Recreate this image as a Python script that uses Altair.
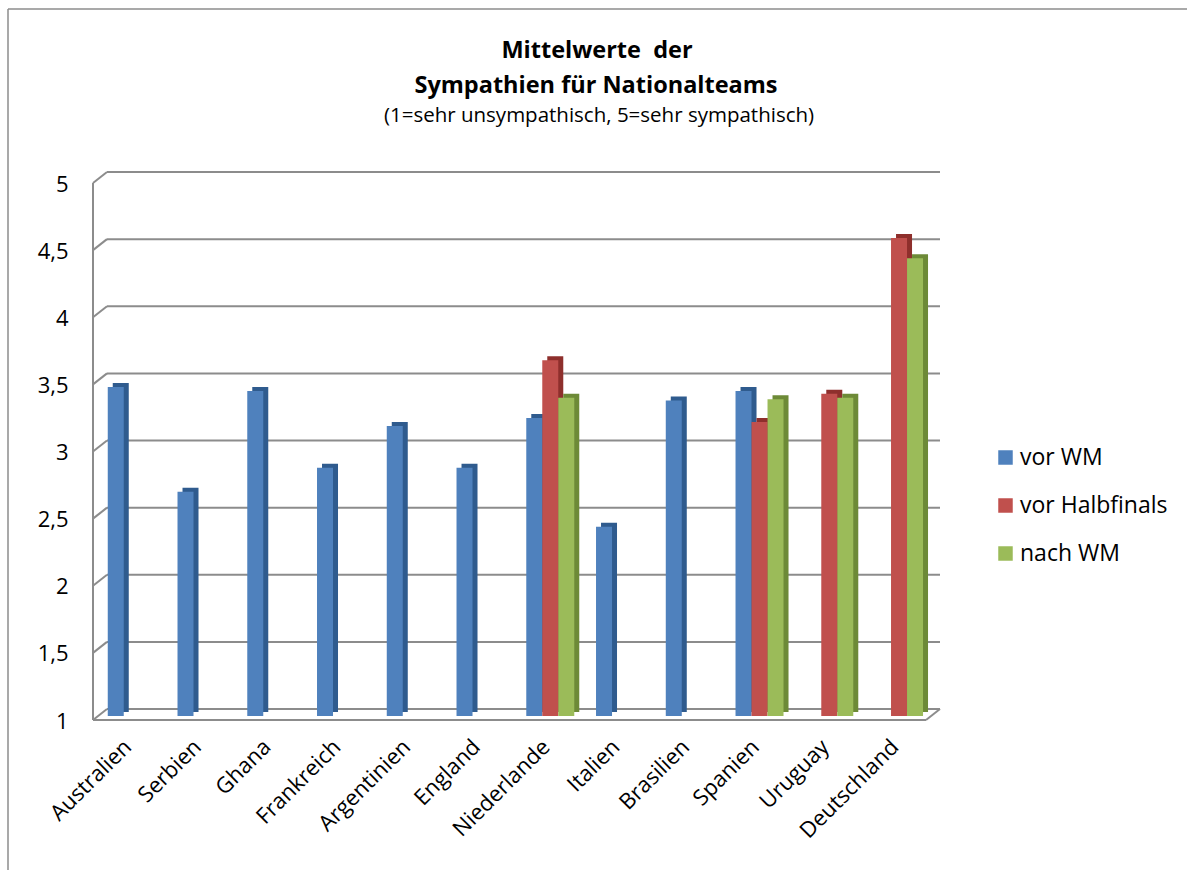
import altair as alt
import pandas as pd

countries = ["Australien", "Serbien", "Ghana", "Frankreich", "Argentinien", "England",
             "Niederlande", "Italien", "Brasilien", "Spanien", "Uruguay", "Deutschland"]
series = ["vor WM", "vor Halbfinals", "nach WM"]
vor_wm = [3.45, 2.67, 3.42, 2.85, 3.16, 2.85, 3.22, 2.41, 3.35, 3.42, None, None]
vor_halbfinals = [None, None, None, None, None, None, 3.65, None, None, 3.19, 3.40, 4.56]
nach_wm = [None, None, None, None, None, None, 3.37, None, None, 3.36, 3.37, 4.41]
y_ticks = [1, 1.5, 2, 2.5, 3, 3.5, 4, 4.5, 5]
title_lines = ["Mittelwerte\u00a0 der", "Sympathien für Nationalteams"]
subtitle = "(1=sehr unsympathisch, 5=sehr sympathisch)"

face_colors = ["#4F81BD", "#C0504D", "#9BBB59"]
side_colors = ["#2F5B8E", "#8E2F2C", "#6D8A37"]
GRID = "#8C8C8C"
FONT = "Open Sans"

rows = []
for name, vals in zip(series, [vor_wm, vor_halbfinals, nach_wm]):
    for c, v in zip(countries, vals):
        if v is not None:
            rows.append({"country": c, "series": name, "value": v})
df = pd.DataFrame(rows)
grid_df = pd.DataFrame({"v": y_ticks})
one = pd.DataFrame({"k": [0]})

W, H = 847, 537
LEFT, TOP = 93, 179
BACK, FRONT, DEPTH_X = -7, 4, 14

yscale = alt.Scale(domain=[1, 5], nice=False, zero=False)
offscale = alt.Scale(domain=series, range=[0, 48], paddingInner=0, paddingOuter=0)
y_axis = alt.Axis(title=None, domain=False, ticks=False, grid=False, values=y_ticks,
                  labelExpr="replace(toString(datum.value), '.', ',')",
                  labelPadding=25, labelOffset=5, labelFontSize=22, labelFont=FONT,
                  labelColor="black")

frame_top = alt.Chart(one).mark_rule(color="#8C8C8C", strokeWidth=1.5).encode(
    x=alt.value(8 - LEFT), x2=alt.value(1110), y=alt.value(9 - TOP))
frame_left = alt.Chart(one).mark_rule(color="#8C8C8C", strokeWidth=1.5).encode(
    x=alt.value(8 - LEFT), y=alt.value(9 - TOP), y2=alt.value(700))

t1 = alt.Chart(one).mark_text(text=title_lines[0], font=FONT, fontSize=23.5, fontWeight="bold",
                              color="black", align="center", baseline="alphabetic").encode(
    x=alt.value(597 - LEFT), y=alt.value(58 - TOP))
t2 = alt.Chart(one).mark_text(text=title_lines[1], font=FONT, fontSize=23.5, fontWeight="bold",
                              color="black", align="center", baseline="alphabetic").encode(
    x=alt.value(596 - LEFT), y=alt.value(93 - TOP))
t3 = alt.Chart(one).mark_text(text=subtitle, font=FONT, fontSize=20.5, color="black",
                              align="center", baseline="alphabetic").encode(
    x=alt.value(599 - LEFT), y=alt.value(122 - TOP))

grid_back = alt.Chart(grid_df).mark_rule(color=GRID, strokeWidth=2, yOffset=BACK).encode(
    y=alt.Y("v:Q", scale=yscale, axis=y_axis), x=alt.value(DEPTH_X), x2=alt.value(W))
wall_diag = alt.Chart(grid_df).mark_rule(color=GRID, strokeWidth=2, yOffset=FRONT, y2Offset=BACK).encode(
    y=alt.Y("v:Q", scale=yscale, axis=y_axis), y2="v", x=alt.value(0), x2=alt.value(DEPTH_X))
front_vert = alt.Chart(one).mark_rule(color=GRID, strokeWidth=2, yOffset=FRONT, y2Offset=FRONT).encode(
    x=alt.value(0), y=alt.datum(5, scale=yscale, axis=y_axis), y2=alt.datum(1))
floor_front = alt.Chart(one).mark_rule(color=GRID, strokeWidth=2, yOffset=FRONT).encode(
    x=alt.value(0), x2=alt.value(W - DEPTH_X), y=alt.datum(1, scale=yscale, axis=y_axis))
floor_diag = alt.Chart(one).mark_rule(color=GRID, strokeWidth=2, yOffset=FRONT, y2Offset=BACK).encode(
    x=alt.value(W - DEPTH_X), x2=alt.value(W), y=alt.datum(1, scale=yscale, axis=y_axis),
    y2=alt.datum(1))

depth = alt.Chart(df).mark_bar(yOffset=-4, y2Offset=-4).encode(
    x=alt.X("country:N", sort=countries,
            scale=alt.Scale(paddingInner=0.312, paddingOuter=0.2275, align=0.465, range=[5, W + 5]),
            axis=None),
    xOffset=alt.XOffset("series:N", sort=series, scale=offscale),
    y=alt.Y("value:Q", scale=yscale, axis=y_axis),
    y2=alt.datum(1),
    color=alt.Color("series:N", scale=alt.Scale(domain=series, range=side_colors), legend=None),
)

face = alt.Chart(df).mark_bar().encode(
    x=alt.X("country:N", sort=countries,
            scale=alt.Scale(paddingInner=0.312, paddingOuter=0.2275, align=0.465),
            axis=alt.Axis(title=None, domain=False, ticks=False, grid=False, labelAngle=-45,
                          labelAlign="right", labelBaseline="middle", labelPadding=27,
                          labelOffset=-4, labelFontSize=22, labelFont=FONT, labelColor="black")),
    xOffset=alt.XOffset("series:N", sort=series, scale=offscale),
    y=alt.Y("value:Q", scale=yscale, axis=y_axis),
    y2=alt.datum(1),
    color=alt.Color("series:N", scale=alt.Scale(domain=series, range=face_colors),
                    legend=alt.Legend(title=None, orient="none", legendX=901, legendY=267,
                                      symbolType="square", symbolSize=210, symbolStrokeWidth=0,
                                      labelFontSize=23, labelFont=FONT, labelColor="black",
                                      rowPadding=24, labelOffset=3, padding=0)),
)

bars = alt.layer(depth, face).resolve_scale(color="independent", x="independent")

chart = alt.layer(
    frame_top, frame_left, t1, t2, t3, grid_back, wall_diag, front_vert, bars,
    floor_front, floor_diag
).properties(
    width=W, height=H,
    autosize=alt.AutoSizeParams(type="none"),
    padding={"left": LEFT, "top": TOP, "right": 1187 - LEFT - W, "bottom": 870 - TOP - H},
).configure(
    background="white",
    view=alt.ViewConfig(stroke="transparent", strokeWidth=0),
)

chart.save("out.html", embed_options={"renderer": "svg", "actions": False})
